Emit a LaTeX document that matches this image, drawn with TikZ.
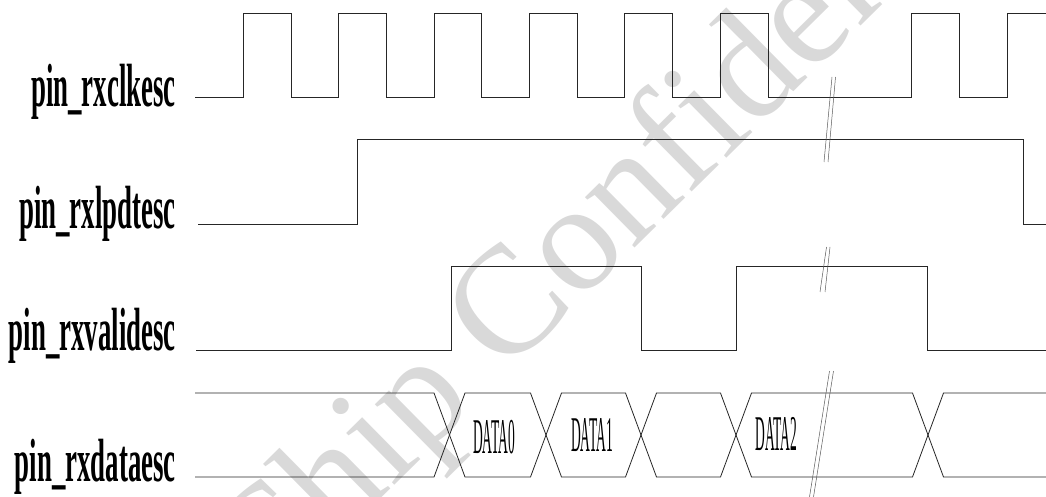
\documentclass[tikz,border=0pt]{standalone}
\usepackage{fontspec}
\setmainfont{Liberation Serif}
\begin{document}
\begin{tikzpicture}[x=1pt,y=-1pt,
  wave/.style={line width=1pt, black!85},
  bus/.style={line width=0.8pt, black!85, line join=miter},
  brk/.style={line width=0.5pt, black!65},
  siglabel/.style={anchor=base east, inner sep=0pt, font=\fontsize{61}{61}\selectfont\bfseries},
  datalabel/.style={anchor=base, inner sep=0pt, font=\fontsize{50}{50}\selectfont},
  wmark/.style={anchor=base west, inner sep=0pt, rotate=44.6, text=black!15, font=\fontsize{154}{154}\selectfont}]
\useasboundingbox (0,0) rectangle (1046,497);
% watermark
\begin{scope}
\clip (0,0) rectangle (1046,497);
\node[wmark] (wm) at (264,614) {Chip Conf\kern0pt idential};
\end{scope}
% labels
\node[siglabel] (l1) at (176,106.7) {\scalebox{0.44}[1]{pin\_rxclkesc}};
\node[siglabel] (l2) at (176,228.3) {\scalebox{0.44}[1]{pin\_rxlpdtesc}};
\node[siglabel] (l3) at (176,350) {\scalebox{0.44}[1]{pin\_rxvalidesc}};
\node[siglabel] (l4) at (176,481.7) {\scalebox{0.44}[1]{pin\_rxdataesc}};
% clock
\draw[wave] (195,98) \foreach \i in {0,...,5} {
  -- ({243.3+95.4*\i},98) -- ({243.3+95.4*\i},14) -- ({291+95.4*\i},14) -- ({291+95.4*\i},98) }
  -- (911.7,98) -- (911.7,14) -- (959.3,14) -- (959.3,98) -- (1007.3,98) -- (1007.3,14) -- (1046,14);
% lpdt
\draw[wave] (198,224.3) -- (357.7,224.3) -- (357.7,140) -- (1023.3,140) -- (1023.3,224.3) -- (1046,224.3);
% valid
\draw[wave] (196,350) -- (451,350) -- (451,266) -- (641,266) -- (641,350) -- (736.7,350) -- (736.7,266) -- (927.7,266) -- (927.7,350) -- (1046,350);
% data bus
\draw[bus] (195,393) -- (434,393) -- (449.5,435) -- (434,477) -- (195,477);
\foreach \a/\b in {449.5/546, 546/641, 641/736, 736/928} {
  \draw[bus] (\a,435) -- ({\a+15.5},393) -- ({\b-15.5},393) -- (\b,435) -- ({\b-15.5},477) -- ({\a+15.5},477) -- cycle;
}
\draw[bus] (1046,393) -- (943.5,393) -- (928,435) -- (943.5,477) -- (1046,477);
\node[datalabel] (d0) at (494,453.5) {\scalebox{0.27}[1]{DATA0}};
\node[datalabel] (d1) at (592,451.5) {\scalebox{0.27}[1]{DATA1}};
\node[datalabel] (d2) at (776.5,450.5) {\scalebox{0.27}[1]{DATA2}};
% break marks
\draw[brk] (832,77) -- (824,162);
\draw[brk] (835.5,77) -- (828,162);
\draw[brk] (826.5,247) -- (820,292);
\draw[brk] (830,247) -- (825,292);
\draw[brk] (829.5,371) -- (809.5,497);
\draw[brk] (833.5,371) -- (813.5,497);
\end{tikzpicture}
\end{document}
